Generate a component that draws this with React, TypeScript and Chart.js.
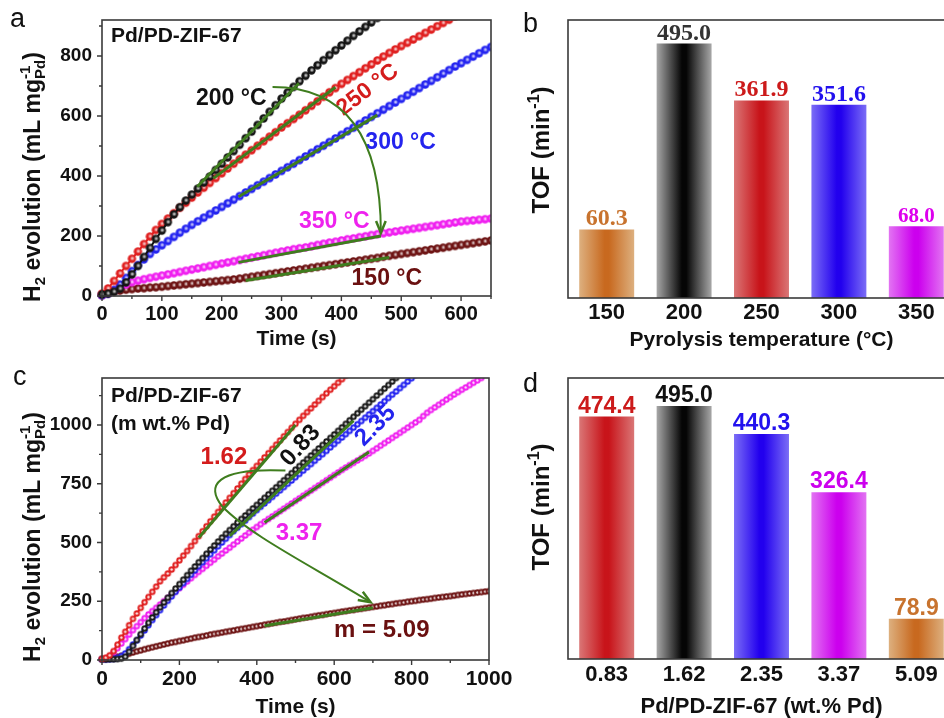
import React, { useEffect, useRef } from 'react';
import { Chart, registerables } from 'chart.js';
Chart.register(...registerables);

const FONT = '"Liberation Sans", Arial, sans-serif';
const SERIF = '"Liberation Serif", "Times New Roman", serif';
const GREEN = '#3f7d1e';
const AXIS = '#3a3a3a';
const INK = '#111111';

const C_BLACK = '#111111';
const C_RED = '#e02020';
const C_BLUE = '#2424f0';
const C_MAG = '#f020f0';
const C_BROWN = '#6e1414';

// ---------------- Panel a : H2 evolution vs time, pyrolysis temperatures ----------------
const timeA = [0,10,20,30,40,50,60,70,80,90,100,110,120,130,140,150,160,170,180,190,200,210,220,230,240,250,260,270,280,290,300,310,320,330,340,350,360,370,380,390,400,410,420,430,440,450,460,470,480,490,500,510,520,530,540,550,560,570,580,590,600,610,620,630,640,650];
const h2At200C = [5,8,14,24,45,72,100,130,160,190,218,246,272,296,318,338,358,378,398,420,441,462,483,504,526,548,570,592,614,636,658,678,697,716,734,752,769,786,803,819,835,851,867,882,897,912,927];
const h2At250C = [8,25,50,75,100,124,148,173,198,220,240,258,276,294,311,328,345,361,377,393,409,425,441,456,471,486,501,516,531,546,562,576,590,604,619,634,649,664,679,693,707,720,733,746,759,772,785,798,810,822,833,844,855,866,877,888,899,910,921,932];
const h2At300C = [3,8,20,38,60,83,103,122,140,155,169,183,197,211,224,237,249,261,273,285,297,309,321,333,345,357,369,381,393,405,417,429,441,453,465,477,489,501,513,525,537,549,561,573,585,597,609,621,633,645,657,669,681,693,705,717,729,741,753,765,776,787,798,809,820,830];
const h2At350C = [3,8,18,30,38,46,51,56,60,64,68,72,76,80,84,88,92,96,100,104,108,112,116,120,124,128,132,136,140,144,148,152,156,159,162,166,170,174,178,181,185,189,192,196,199,203,206,209,212,215,218,221,224,227,230,233,236,239,242,245,248,250,252,254,256,258];
const h2At150C = [3,10,15,18,21,23,25,26,28,29,31,33,35,37,39,41,43,45,47,49,51,53,55,58,61,64,67,70,73,76,79,82,85,88,91,94,97,100,103,106,109,112,115,118,121,124,127,131,134,137,140,143,146,149,152,155,158,161,164,167,170,173,176,179,182,185];
const fitA200 = [[159, 364], [329, 709]];
const fitA250 = [[186, 392], [390, 696]];
const fitA300 = [[228, 331], [460, 603]];
const fitA350 = [[228, 112], [466, 200]];
const fitA150 = [[240, 52], [480, 128]];
const arrowA = [[285, 697], [399, 697], [466, 553], [466, 210]];
const xTicksA = [0, 100, 200, 300, 400, 500, 600];
const xMinorA = [50, 150, 250, 350, 450, 550, 650];
const yTicksA = [0, 200, 400, 600, 800];
const yMinorA = [100, 300, 500, 700, 900];

// ---------------- Panel b : TOF vs pyrolysis temperature ----------------
const pyrolysisTemps = ['150', '200', '250', '300', '350'];
const tofByTemp = [60.3, 495.0, 361.9, 351.6, 68.0];
const tempBarShades = ['orange', 'black', 'red', 'blue', 'magenta'];
const tempLabelColors = ['#c8732e', '#333333', '#cc1a1a', '#2211ee', '#dd00ee'];
const tempLabelSizes = [24, 24, 24, 24, 21];

// ---------------- Panel c : H2 evolution vs time, Pd loadings ----------------
const timeC = [0,10,20,30,40,50,60,70,80,90,100,110,120,130,140,150,160,170,180,190,200,210,220,230,240,250,260,270,280,290,300,310,320,330,340,350,360,370,380,390,400,410,420,430,440,450,460,470,480,490,500,510,520,530,540,550,560,570,580,590,600,610,620,630,640,650,660,670,680,690,700,710,720,730,740,750,760,770,780,790,800,810,820,830,840,850,860,870,880,890,900,910,920,930,940,950,960,970,980,990,1000];
const h2Pd162 = [5,10,20,38,65,95,120,148,175,198,222,246,268,290,312,335,352,368,385,404,424,444,464,485,506,527,548,569,590,610,630,650,670,690,710,730,750,770,790,808,826,844,862,880,898,916,934,952,970,988,1005,1022,1039,1055,1071,1087,1103,1119,1135,1150,1165,1180,1195,1210];
const h2Pd083 = [2,2,3,3,4,6,14,35,60,85,110,134,158,181,203,224,245,265,285,304,323,342,361,380,398,416,434,452,470,487,504,521,537,553,569,585,600,615,630,645,660,675,690,705,720,735,750,765,780,795,810,825,840,855,870,885,900,915,930,945,960,975,990,1005,1020,1035,1050,1065,1080,1095,1110,1125,1140,1155,1170,1185,1200];
const h2Pd235 = [2,2,3,5,9,16,28,46,66,84,104,126,148,170,191,212,232,252,271,290,308,327,345,363,381,399,416,433,450,467,484,500,516,532,548,563,578,593,608,623,638,652,666,680,694,708,722,736,750,764,778,792,806,820,834,848,862,876,890,905,919,933,947,961,975,989,1003,1017,1031,1045,1059,1073,1087,1101,1115,1129,1143,1157,1171,1185,1199,1213];
const h2Pd337 = [3,5,15,32,50,70,89,108,127,144,161,178,194,208,222,236,250,264,278,292,306,320,334,348,362,375,388,401,414,427,441,453,466,478,491,504,517,530,542,554,566,578,589,600,611,622,633,644,655,666,677,688,699,710,721,732,743,754,765,776,787,798,809,819,829,839,849,859,869,879,890,901,912,923,934,945,956,967,978,989,1000,1011,1022,1038,1052,1064,1075,1086,1097,1108,1119,1130,1140,1150,1160,1170,1180,1190,1200];
const h2Pd509 = [5,5,7,10,14,18,22,27,32,37,41,46,50,54,58,62,66,70,74,77,81,84,88,91,95,98,101,104,108,111,114,117,120,123,126,129,132,135,138,141,144,147,150,153,156,159,162,164,167,170,173,176,179,181,184,187,190,192,195,198,200,203,206,208,211,213,216,218,221,223,226,228,231,233,236,238,241,243,245,248,250,252,255,257,259,261,264,266,268,270,272,274,277,279,281,283,285,287,289,291,293];
const fitC162 = [[250, 520], [500, 1000]];
const fitC083 = [[330, 528], [650, 1018]];
const fitC337 = [[420, 585], [690, 885]];
const fitC509 = [[420, 146], [700, 222]];
const arrowC = [[474, 806], [293, 819], [267, 742], [311, 653], [383, 530], [539, 403], [694, 246]];
const xTicksC = [0, 200, 400, 600, 800, 1000];
const xMinorC = [100, 300, 500, 700, 900];
const yTicksC = [0, 250, 500, 750, 1000];
const yMinorC = [125, 375, 625, 875, 1125];

// ---------------- Panel d : TOF vs Pd loading ----------------
const pdLoadings = ['0.83', '1.62', '2.35', '3.37', '5.09'];
const tofByLoading = [474.4, 495.0, 440.3, 326.4, 78.9];
const loadingBarShades = ['red', 'black', 'blue', 'magenta', 'orange'];
const loadingLabelColors = ['#cc1a1a', '#111111', '#2211ee', '#cc00ee', '#c8732e'];
const loadingLabelSizes = [23, 23, 23, 23, 23];

const BAR_SHADES: Record<string, [string, string]> = {
  orange: ['#ddb07f', '#c8691f'],
  black: ['#a8a8a8', '#050505'],
  red: ['#da7676', '#c8141a'],
  blue: ['#7b6df6', '#2200ee'],
  magenta: ['#e274f2', '#cc00ee'],
};

type Seg = { t: string; size: number; dy?: number; stack?: boolean };
type Ann = { text: string; x: number; y: number; color: string; size: number; rot?: number; align?: CanvasTextAlign };

const yTitleH2: Seg[] = [
  { t: 'H', size: 23 },
  { t: '2', size: 15, dy: 5 },
  { t: ' evolution (mL mg', size: 23 },
  { t: '-1', size: 15, dy: -10 },
  { t: 'Pd', size: 15, dy: 5, stack: true },
  { t: ')', size: 23 },
];
const yTitleTOF: Seg[] = [
  { t: 'TOF (min', size: 24 },
  { t: '-1', size: 16, dy: -10 },
  { t: ')', size: 24 },
];

const annA: Ann[] = [
  { text: 'Pd/PD-ZIF-67', x: 15, y: 867, color: INK, size: 21, align: 'left' },
  { text: '200 °C', x: 216, y: 657, color: INK, size: 23 },
  { text: '250 °C', x: 444, y: 687, color: '#d41c1c', size: 23, rot: -37 },
  { text: '300 °C', x: 499, y: 510, color: '#2424ee', size: 23 },
  { text: '350 °C', x: 388, y: 247, color: '#ee22ee', size: 23 },
  { text: '150 °C', x: 476, y: 57, color: '#6a1010', size: 23 },
];
const annC: Ann[] = [
  { text: 'Pd/PD-ZIF-67', x: 23, y: 1124, color: INK, size: 21, align: 'left' },
  { text: '(m wt.% Pd)', x: 23, y: 1005, color: INK, size: 21, align: 'left' },
  { text: '1.62', x: 315, y: 861, color: '#d41c1c', size: 24 },
  { text: '0.83', x: 513, y: 912, color: INK, size: 24, rot: -48 },
  { text: '2.35', x: 707, y: 997, color: '#2424ee', size: 24, rot: -45 },
  { text: '3.37', x: 509, y: 539, color: '#ee22ee', size: 24 },
  { text: 'm = 5.09', x: 723, y: 127, color: '#6a1010', size: 24 },
];

function drawRich(ctx: CanvasRenderingContext2D, segs: Seg[], cx: number, cy: number, rot: number, color: string) {
  ctx.save();
  ctx.translate(cx, cy);
  ctx.rotate(rot);
  const widths = segs.map((s) => { ctx.font = `bold ${s.size}px ${FONT}`; return ctx.measureText(s.t).width; });
  const xs: number[] = [];
  let x = 0;
  segs.forEach((s, i) => {
    if (s.stack && i > 0) { xs.push(xs[i - 1]); x = xs[i - 1] + Math.max(widths[i], widths[i - 1]); }
    else { xs.push(x); x += widths[i]; }
  });
  const total = x;
  const base = segs[0].size * 0.36;
  ctx.fillStyle = color;
  ctx.textBaseline = 'alphabetic';
  ctx.textAlign = 'left';
  segs.forEach((s, i) => {
    ctx.font = `bold ${s.size}px ${FONT}`;
    ctx.fillText(s.t, xs[i] - total / 2, base + (s.dy || 0));
  });
  ctx.restore();
}

function decorations(opts: {
  id: string;
  letter: [string, number, number];
  yTitle: [Seg[], number, number];
  ticks?: { xMajor: number[]; xMinor: number[]; yMajor: number[]; yMinor: number[] };
  texts?: Ann[];
  arrow?: number[][];
  barLabels?: { values: number[]; colors: string[]; sizes: number[]; font: string };
}) {
  return {
    id: opts.id,
    afterDraw(chart: any) {
      const ctx: CanvasRenderingContext2D = chart.ctx;
      const a = chart.chartArea;
      const xs = chart.scales.x;
      const ys = chart.scales.y;
      ctx.save();
      if (opts.barLabels) {
        const bl = opts.barLabels;
        const meta = chart.getDatasetMeta(0);
        ctx.textAlign = 'center';
        ctx.textBaseline = 'alphabetic';
        meta.data.forEach((el: any, i: number) => {
          ctx.font = `bold ${bl.sizes[i]}px ${bl.font}`;
          ctx.fillStyle = bl.colors[i];
          ctx.fillText(bl.values[i].toFixed(1), el.x, el.y - 4);
        });
      }
      (opts.texts || []).forEach((t) => {
        ctx.save();
        ctx.translate(xs.getPixelForValue(t.x), ys.getPixelForValue(t.y));
        if (t.rot) ctx.rotate((t.rot * Math.PI) / 180);
        ctx.font = `bold ${t.size}px ${FONT}`;
        ctx.fillStyle = t.color;
        ctx.textAlign = t.align || 'center';
        ctx.textBaseline = 'middle';
        ctx.fillText(t.text, 0, 0);
        ctx.restore();
      });
      if (opts.arrow) {
        const P = opts.arrow.map(([t, v]) => [xs.getPixelForValue(t), ys.getPixelForValue(v)]);
        ctx.strokeStyle = GREEN;
        ctx.lineWidth = 2;
        ctx.beginPath();
        ctx.moveTo(P[0][0], P[0][1]);
        for (let i = 1; i + 2 < P.length; i += 3) {
          ctx.bezierCurveTo(P[i][0], P[i][1], P[i + 1][0], P[i + 1][1], P[i + 2][0], P[i + 2][1]);
        }
        ctx.stroke();
        const end = P[P.length - 1];
        const prev = P[P.length - 2];
        const ang = Math.atan2(end[1] - prev[1], end[0] - prev[0]);
        const L = 13, W = 0.38;
        ctx.lineWidth = 2.5;
        ctx.beginPath();
        ctx.moveTo(end[0] - L * Math.cos(ang - W), end[1] - L * Math.sin(ang - W));
        ctx.lineTo(end[0], end[1]);
        ctx.lineTo(end[0] - L * Math.cos(ang + W), end[1] - L * Math.sin(ang + W));
        ctx.stroke();
      }
      ctx.strokeStyle = AXIS;
      ctx.lineWidth = 1.6;
      ctx.strokeRect(a.left, a.top, a.right - a.left, a.bottom - a.top);
      if (opts.ticks) {
        const tk = opts.ticks;
        ctx.lineWidth = 1.4;
        ctx.beginPath();
        tk.xMajor.forEach((v) => { const p = xs.getPixelForValue(v); ctx.moveTo(p, a.bottom); ctx.lineTo(p, a.bottom + 5); });
        tk.xMinor.forEach((v) => { const p = xs.getPixelForValue(v); ctx.moveTo(p, a.bottom); ctx.lineTo(p, a.bottom + 3); });
        tk.yMajor.forEach((v) => { const p = ys.getPixelForValue(v); ctx.moveTo(a.left, p); ctx.lineTo(a.left - 5, p); });
        tk.yMinor.forEach((v) => { const p = ys.getPixelForValue(v); ctx.moveTo(a.left, p); ctx.lineTo(a.left - 3, p); });
        ctx.stroke();
      }
      drawRich(ctx, opts.yTitle[0], opts.yTitle[1], opts.yTitle[2], -Math.PI / 2, INK);
      ctx.font = `27px ${FONT}`;
      ctx.fillStyle = INK;
      ctx.textAlign = 'left';
      ctx.textBaseline = 'alphabetic';
      ctx.fillText(opts.letter[0], opts.letter[1], opts.letter[2]);
      ctx.restore();
    },
  };
}

function makeMarker(color: string, r: number, hl: number, ring: boolean) {
  const c = document.createElement('canvas');
  const size = Math.ceil(2 * r + 2);
  c.width = size;
  c.height = size;
  const g = c.getContext('2d')!;
  const m = size / 2;
  g.beginPath();
  g.arc(m, m, r, 0, Math.PI * 2);
  g.fillStyle = color;
  g.fill();
  if (ring) {
    g.beginPath();
    g.arc(m, m, hl, 0, Math.PI * 2);
    g.fillStyle = 'rgba(255,255,255,0.92)';
    g.fill();
  } else {
    const rg = g.createRadialGradient(m + 0.4, m - 0.4, 0, m + 0.4, m - 0.4, hl);
    rg.addColorStop(0, 'rgba(255,255,255,0.95)');
    rg.addColorStop(1, 'rgba(255,255,255,0)');
    g.beginPath();
    g.arc(m, m, r, 0, Math.PI * 2);
    g.fillStyle = rg;
    g.fill();
  }
  return c;
}

function pts(time: number[], vals: number[]) {
  return vals.map((v, i) => ({ x: time[i], y: v }));
}
function pairPts(p: number[][]) {
  return p.map(([x, y]) => ({ x, y }));
}

function curveSet(data: any[], color: string, marker: HTMLCanvasElement) {
  return {
    data,
    borderColor: color,
    backgroundColor: color,
    borderWidth: 2,
    pointStyle: marker,
    pointRadius: 4,
    pointHoverRadius: 4,
    showLine: true,
    order: 1,
    clip: { left: 6, top: 0, right: 0, bottom: 6 },
  };
}
function fitSet(p: number[][]) {
  return { data: pairPts(p), borderColor: GREEN, borderWidth: 3, pointRadius: 0, showLine: true, order: 0, clip: 0 };
}

function barFill(names: string[]) {
  return (c: any) => {
    const chart = c.chart;
    const name = names[c.dataIndex] ?? 'black';
    const [edge, core] = BAR_SHADES[name];
    if (!chart.chartArea || c.dataIndex === undefined) return core;
    const xs = chart.scales.x;
    const cx = xs.getPixelForValue(c.dataIndex);
    const bw = (xs.width / names.length) * 0.71;
    const g = chart.ctx.createLinearGradient(cx - bw / 2, 0, cx + bw / 2, 0);
    g.addColorStop(0, edge);
    g.addColorStop(0.46, core);
    g.addColorStop(0.54, core);
    g.addColorStop(1, edge);
    return g;
  };
}

const tickFont = (size: number) => ({ family: FONT, size, weight: 'bold' as const });
const setTicks = (vals: number[]) => (s: any) => { s.ticks = vals.map((v) => ({ value: v })); };
const fixX = (h: number) => (s: any) => { s.height = h; s.paddingLeft = 0; s.paddingRight = 0; };
const fixY = (w: number) => (s: any) => { s.width = w; s.paddingTop = 0; s.paddingBottom = 0; };

function makeLineChart(canvas: HTMLCanvasElement, cfg: any) {
  return new Chart(canvas, {
    type: 'line',
    data: { datasets: cfg.datasets },
    options: {
      animation: false,
      responsive: false,
      devicePixelRatio: 1,
      events: [],
      layout: { padding: cfg.padding, autoPadding: false },
      plugins: { legend: { display: false }, tooltip: { enabled: false } },
      scales: {
        x: {
          type: 'linear', min: cfg.xMin, max: cfg.xMax,
          afterBuildTicks: setTicks(cfg.xTicks),
          afterFit: fixX(cfg.xHeight),
          ticks: { font: tickFont(cfg.xTickSize), color: INK, padding: cfg.xPad, maxRotation: 0, autoSkip: false, callback: (v: any) => String(v) },
          grid: { display: false, drawTicks: false }, border: { display: false },
          title: { display: true, text: 'Time (s)', color: INK, font: tickFont(21), padding: { top: 0, bottom: cfg.titlePad } },
        },
        y: {
          type: 'linear', min: cfg.yMin, max: cfg.yMax,
          afterBuildTicks: setTicks(cfg.yTicks),
          afterFit: fixY(cfg.yWidth),
          ticks: { font: tickFont(cfg.yTickSize), color: INK, padding: 10, autoSkip: false, callback: (v: any) => String(v) },
          grid: { display: false, drawTicks: false }, border: { display: false },
        },
      },
    } as any,
    plugins: [cfg.plugin],
  });
}

function makeBarChart(canvas: HTMLCanvasElement, cfg: any) {
  return new Chart(canvas, {
    type: 'bar',
    data: {
      labels: cfg.labels,
      datasets: [{
        data: cfg.values,
        base: cfg.yMin,
        backgroundColor: barFill(cfg.shades),
        borderWidth: 0,
        barPercentage: 0.71,
        categoryPercentage: 1,
      }],
    },
    options: {
      animation: false,
      responsive: false,
      devicePixelRatio: 1,
      events: [],
      layout: { padding: cfg.padding, autoPadding: false },
      plugins: { legend: { display: false }, tooltip: { enabled: false } },
      scales: {
        x: {
          afterFit: fixX(cfg.xHeight),
          ticks: { font: tickFont(22), color: INK, padding: cfg.xPad, maxRotation: 0 },
          grid: { display: false, drawTicks: false }, border: { display: false },
          title: { display: true, text: cfg.xTitle, color: INK, font: tickFont(cfg.titleSize), padding: { top: 0, bottom: cfg.titlePad } },
        },
        y: {
          min: cfg.yMin, max: cfg.yMax,
          afterFit: fixY(cfg.yWidth),
          ticks: { display: false },
          grid: { display: false, drawTicks: false }, border: { display: false },
        },
      },
    } as any,
    plugins: [cfg.plugin],
  });
}

export default function App() {
  const refA = useRef<HTMLCanvasElement>(null);
  const refB = useRef<HTMLCanvasElement>(null);
  const refC = useRef<HTMLCanvasElement>(null);
  const refD = useRef<HTMLCanvasElement>(null);

  useEffect(() => {
    const sph = (c: string) => makeMarker(c, 4.2, 2.4, false);
    const ring = (c: string) => makeMarker(c, 3.2, 1.2, true);

    const chartA = makeLineChart(refA.current!, {
      datasets: [
        fitSet(fitA200), fitSet(fitA250), fitSet(fitA300), fitSet(fitA350), fitSet(fitA150),
        curveSet(pts(timeA, h2At200C), C_BLACK, sph('#151515')),
        curveSet(pts(timeA, h2At250C), C_RED, sph(C_RED)),
        curveSet(pts(timeA, h2At300C), C_BLUE, sph(C_BLUE)),
        curveSet(pts(timeA, h2At350C), C_MAG, sph(C_MAG)),
        curveSet(pts(timeA, h2At150C), C_BROWN, sph(C_BROWN)),
      ],
      padding: { left: 0, top: 20, right: 19, bottom: 0 },
      xMin: 0, xMax: 650, xTicks: xTicksA, xTickSize: 20, xPad: 6, xHeight: 64, titlePad: 8,
      yMin: 0, yMax: 920, yTicks: yTicksA, yTickSize: 19, yWidth: 102,
      plugin: decorations({
        id: 'decoA',
        letter: ['a', 10, 27],
        yTitle: [yTitleH2, 32, 177],
        ticks: { xMajor: xTicksA, xMinor: xMinorA, yMajor: yTicksA, yMinor: yMinorA },
        texts: annA,
        arrow: arrowA,
      }),
    });

    const chartB = makeBarChart(refB.current!, {
      labels: pyrolysisTemps, values: tofByTemp, shades: tempBarShades,
      padding: { left: 0, top: 20, right: 5, bottom: 0 },
      xHeight: 62, xPad: 2, yWidth: 58, yMin: -100, yMax: 550,
      xTitle: 'Pyrolysis temperature (°C)', titleSize: 21, titlePad: 7,
      plugin: decorations({
        id: 'decoB',
        letter: ['b', 13, 32],
        yTitle: [yTitleTOF, 30, 150],
        barLabels: { values: tofByTemp, colors: tempLabelColors, sizes: tempLabelSizes, font: SERIF },
      }),
    });

    const chartC = makeLineChart(refC.current!, {
      datasets: [
        fitSet(fitC162), fitSet(fitC083), fitSet(fitC337), fitSet(fitC509),
        curveSet(pts(timeC, h2Pd162), C_RED, ring(C_RED)),
        curveSet(pts(timeC, h2Pd083), C_BLACK, ring('#1a1a1a')),
        curveSet(pts(timeC, h2Pd235), C_BLUE, ring(C_BLUE)),
        curveSet(pts(timeC, h2Pd337), C_MAG, ring(C_MAG)),
        curveSet(pts(timeC, h2Pd509), C_BROWN, ring(C_BROWN)),
      ],
      padding: { left: 0, top: 18, right: 31, bottom: 0 },
      xMin: 0, xMax: 1000, xTicks: xTicksC, xTickSize: 21, xPad: 7, xHeight: 70, titlePad: 10,
      yMin: 0, yMax: 1200, yTicks: yTicksC, yTickSize: 19, yWidth: 102,
      plugin: decorations({
        id: 'decoC',
        letter: ['c', 13, 25],
        yTitle: [yTitleH2, 32, 177],
        ticks: { xMajor: xTicksC, xMinor: xMinorC, yMajor: yTicksC, yMinor: yMinorC },
        texts: annC,
        arrow: arrowC,
      }),
    });

    const chartD = makeBarChart(refD.current!, {
      labels: pdLoadings, values: tofByLoading, shades: loadingBarShades,
      padding: { left: 0, top: 18, right: 5, bottom: 0 },
      xHeight: 71, xPad: 3, yWidth: 58, yMin: 0, yMax: 550,
      xTitle: 'Pd/PD-ZIF-67 (wt.% Pd)', titleSize: 22, titlePad: 10,
      plugin: decorations({
        id: 'decoD',
        letter: ['d', 13, 32],
        yTitle: [yTitleTOF, 30, 147],
        barLabels: { values: tofByLoading, colors: loadingLabelColors, sizes: loadingLabelSizes, font: FONT },
      }),
    });

    return () => { chartA.destroy(); chartB.destroy(); chartC.destroy(); chartD.destroy(); };
  }, []);

  const pos = (left: number, top: number, w: number, h: number): React.CSSProperties => ({
    position: 'absolute', left, top, width: w, height: h,
  });

  return (
    <div style={{ position: 'absolute', left: 0, top: 0, width: 944, height: 718, overflow: 'hidden', background: '#ffffff' }}>
      <canvas ref={refA} width={510} height={360} style={pos(0, 0, 510, 360)} />
      <canvas ref={refB} width={450} height={360} style={pos(510, 0, 450, 360)} />
      <canvas ref={refC} width={520} height={370} style={pos(0, 360, 520, 370)} />
      <canvas ref={refD} width={450} height={370} style={pos(510, 360, 450, 370)} />
    </div>
  );
}
